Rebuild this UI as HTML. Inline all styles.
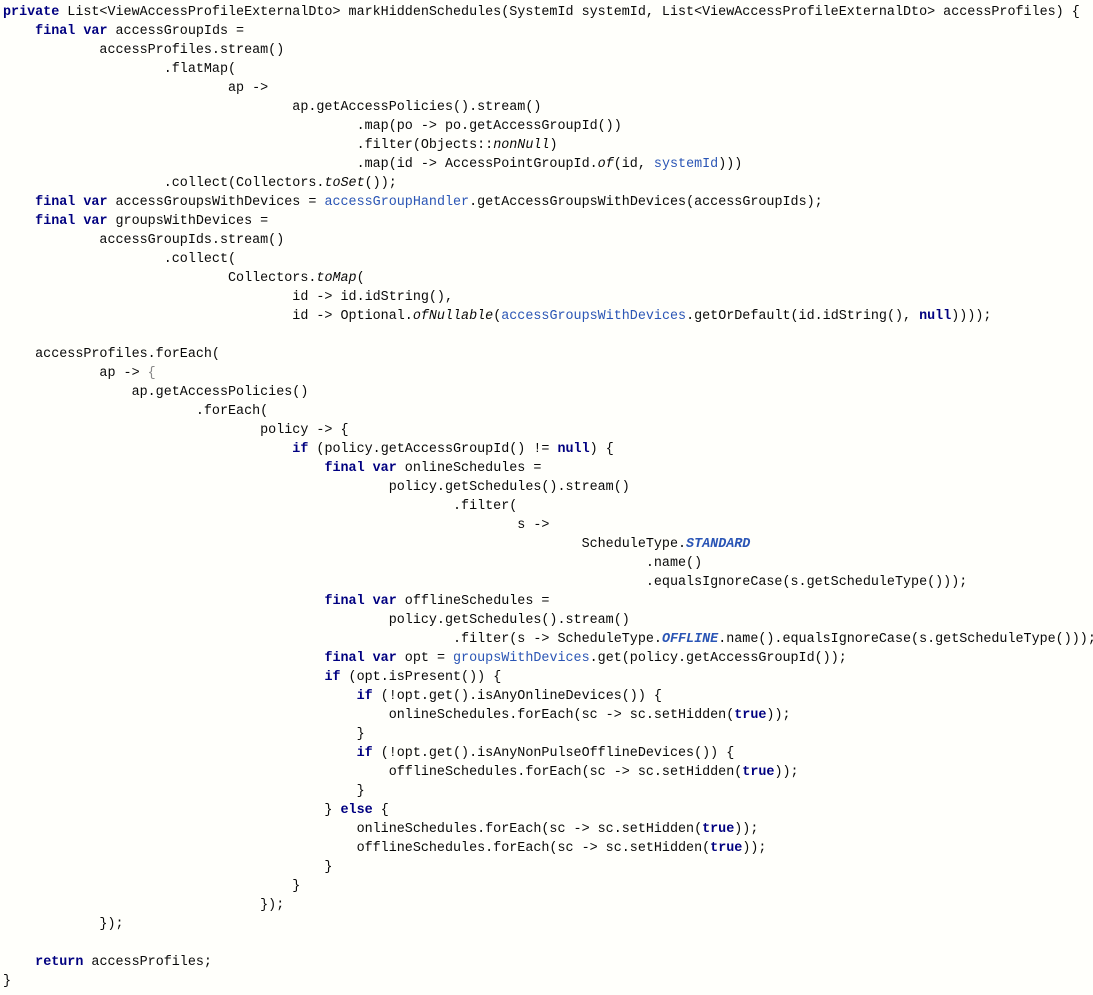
<!DOCTYPE html>
<html><head><meta charset="utf-8"><style>
html,body{margin:0;padding:0;background:#fffffb;width:1093px;height:995px;overflow:hidden}
pre{margin:0;padding:3px 0 0 3px;font-family:"Liberation Mono",monospace;font-size:13.4px;line-height:19px;color:#080808}
.k{color:#000080;font-weight:bold}
.f{color:#2a55b5}
.i{font-style:italic}
.c{color:#2a55b5;font-style:italic;font-weight:bold}
.g{color:#888}
</style></head><body><pre><span class="k">private</span> List&lt;ViewAccessProfileExternalDto&gt; markHiddenSchedules(SystemId systemId, List&lt;ViewAccessProfileExternalDto&gt; accessProfiles) {
    <span class="k">final var</span> accessGroupIds =
            accessProfiles.stream()
                    .flatMap(
                            ap -&gt;
                                    ap.getAccessPolicies().stream()
                                            .map(po -&gt; po.getAccessGroupId())
                                            .filter(Objects::<span class="i">nonNull</span>)
                                            .map(id -&gt; AccessPointGroupId.<span class="i">of</span>(id, <span class="f">systemId</span>)))
                    .collect(Collectors.<span class="i">toSet</span>());
    <span class="k">final var</span> accessGroupsWithDevices = <span class="f">accessGroupHandler</span>.getAccessGroupsWithDevices(accessGroupIds);
    <span class="k">final var</span> groupsWithDevices =
            accessGroupIds.stream()
                    .collect(
                            Collectors.<span class="i">toMap</span>(
                                    id -&gt; id.idString(),
                                    id -&gt; Optional.<span class="i">ofNullable</span>(<span class="f">accessGroupsWithDevices</span>.getOrDefault(id.idString(), <span class="k">null</span>))));

    accessProfiles.forEach(
            ap -&gt; <span class="g">{</span>
                ap.getAccessPolicies()
                        .forEach(
                                policy -&gt; {
                                    <span class="k">if</span> (policy.getAccessGroupId() != <span class="k">null</span>) {
                                        <span class="k">final var</span> onlineSchedules =
                                                policy.getSchedules().stream()
                                                        .filter(
                                                                s -&gt;
                                                                        ScheduleType.<span class="c">STANDARD</span>
                                                                                .name()
                                                                                .equalsIgnoreCase(s.getScheduleType()));
                                        <span class="k">final var</span> offlineSchedules =
                                                policy.getSchedules().stream()
                                                        .filter(s -&gt; ScheduleType.<span class="c">OFFLINE</span>.name().equalsIgnoreCase(s.getScheduleType()));
                                        <span class="k">final var</span> opt = <span class="f">groupsWithDevices</span>.get(policy.getAccessGroupId());
                                        <span class="k">if</span> (opt.isPresent()) {
                                            <span class="k">if</span> (!opt.get().isAnyOnlineDevices()) {
                                                onlineSchedules.forEach(sc -&gt; sc.setHidden(<span class="k">true</span>));
                                            }
                                            <span class="k">if</span> (!opt.get().isAnyNonPulseOfflineDevices()) {
                                                offlineSchedules.forEach(sc -&gt; sc.setHidden(<span class="k">true</span>));
                                            }
                                        } <span class="k">else</span> {
                                            onlineSchedules.forEach(sc -&gt; sc.setHidden(<span class="k">true</span>));
                                            offlineSchedules.forEach(sc -&gt; sc.setHidden(<span class="k">true</span>));
                                        }
                                    }
                                });
            });

    <span class="k">return</span> accessProfiles;
}</pre></body></html>
